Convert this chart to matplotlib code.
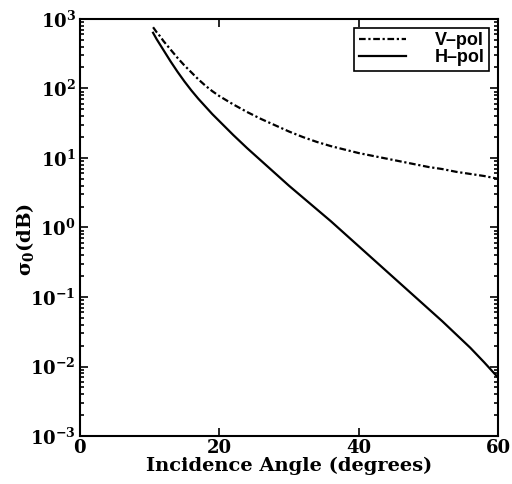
import numpy as np
import matplotlib
matplotlib.use('Agg')
import matplotlib.pyplot as plt

### Data (log10 of sigma_0)
angle = [10.5, 11, 11.5, 12, 13, 14, 15, 16, 17, 18, 19, 20, 22, 24, 26, 28,
         30, 32, 34, 36, 38, 40, 42, 44, 46, 48, 50, 52, 54, 56, 58, 60]
vpol_log = [2.88, 2.81, 2.75, 2.68, 2.56, 2.44, 2.33, 2.23, 2.13, 2.04, 1.96,
            1.89, 1.77, 1.66, 1.56, 1.47, 1.38, 1.30, 1.23, 1.17, 1.12, 1.07,
            1.03, 0.99, 0.95, 0.91, 0.87, 0.84, 0.80, 0.77, 0.74, 0.70]
hpol_log = [2.80, 2.71, 2.63, 2.55, 2.39, 2.24, 2.10, 1.97, 1.85, 1.74, 1.63,
            1.53, 1.33, 1.14, 0.96, 0.78, 0.60, 0.43, 0.26, 0.09, -0.09, -0.27,
            -0.45, -0.63, -0.81, -0.99, -1.17, -1.35, -1.54, -1.73, -1.94, -2.16]

xticks = [0, 20, 40, 60]

### plot settings
plt.rcParams['mathtext.fontset'] = 'custom'
plt.rcParams['mathtext.rm'] = 'DejaVu Serif:bold'
plt.rcParams['mathtext.it'] = 'DejaVu Serif:bold'
plt.rcParams['mathtext.bf'] = 'DejaVu Serif:bold'
plt.rcParams['font.family'] = 'DejaVu Serif'
plt.rcParams['font.weight'] = 'bold'

fig = plt.figure(figsize=(5.12, 4.84), dpi=100)
ax = fig.add_axes([0.156, 0.099, 0.817, 0.862])

vpol = 10**np.array(vpol_log)
hpol = 10**np.array(hpol_log)

ax.semilogy(angle, vpol, color='black', lw=1.6, linestyle=(0, (3, 1.2, 1, 1.2)), label='V\u2013pol')
ax.semilogy(angle, hpol, color='black', lw=1.6, linestyle='-', label='H\u2013pol')

ax.set_xlim(0, 60)
ax.set_ylim(1e-3, 1e3)
ax.set_xticks(xticks)
ax.set_xticklabels([str(t) for t in xticks])

ax.tick_params(which='both', direction='in', top=True, right=True, labelsize=13, width=1.2)
ax.tick_params(which='major', length=6)
ax.tick_params(which='minor', length=3)
ax.tick_params(axis='x', pad=2)
ax.tick_params(axis='y', pad=3)
for s in ax.spines.values():
    s.set_linewidth(1.5)

ax.set_xlabel('Incidence Angle (degrees)', fontsize=14, fontweight='bold')
ax.xaxis.set_label_coords(0.5, -0.05)
ax.set_ylabel(r'$\sigma_0$(dB)', fontsize=14, fontweight='bold')
ax.yaxis.set_label_coords(-0.105, 0.47)

leg = ax.legend(loc='upper right', prop={'family': 'Liberation Sans', 'weight': 'bold', 'size': 13},
                frameon=True, fancybox=False, edgecolor='black', framealpha=1,
                handlelength=2.6, handletextpad=1.6, borderpad=0.25, labelspacing=0.0,
                borderaxespad=0.5)
leg.get_frame().set_linewidth(1.2)

fig.savefig('out.png', dpi=100)
